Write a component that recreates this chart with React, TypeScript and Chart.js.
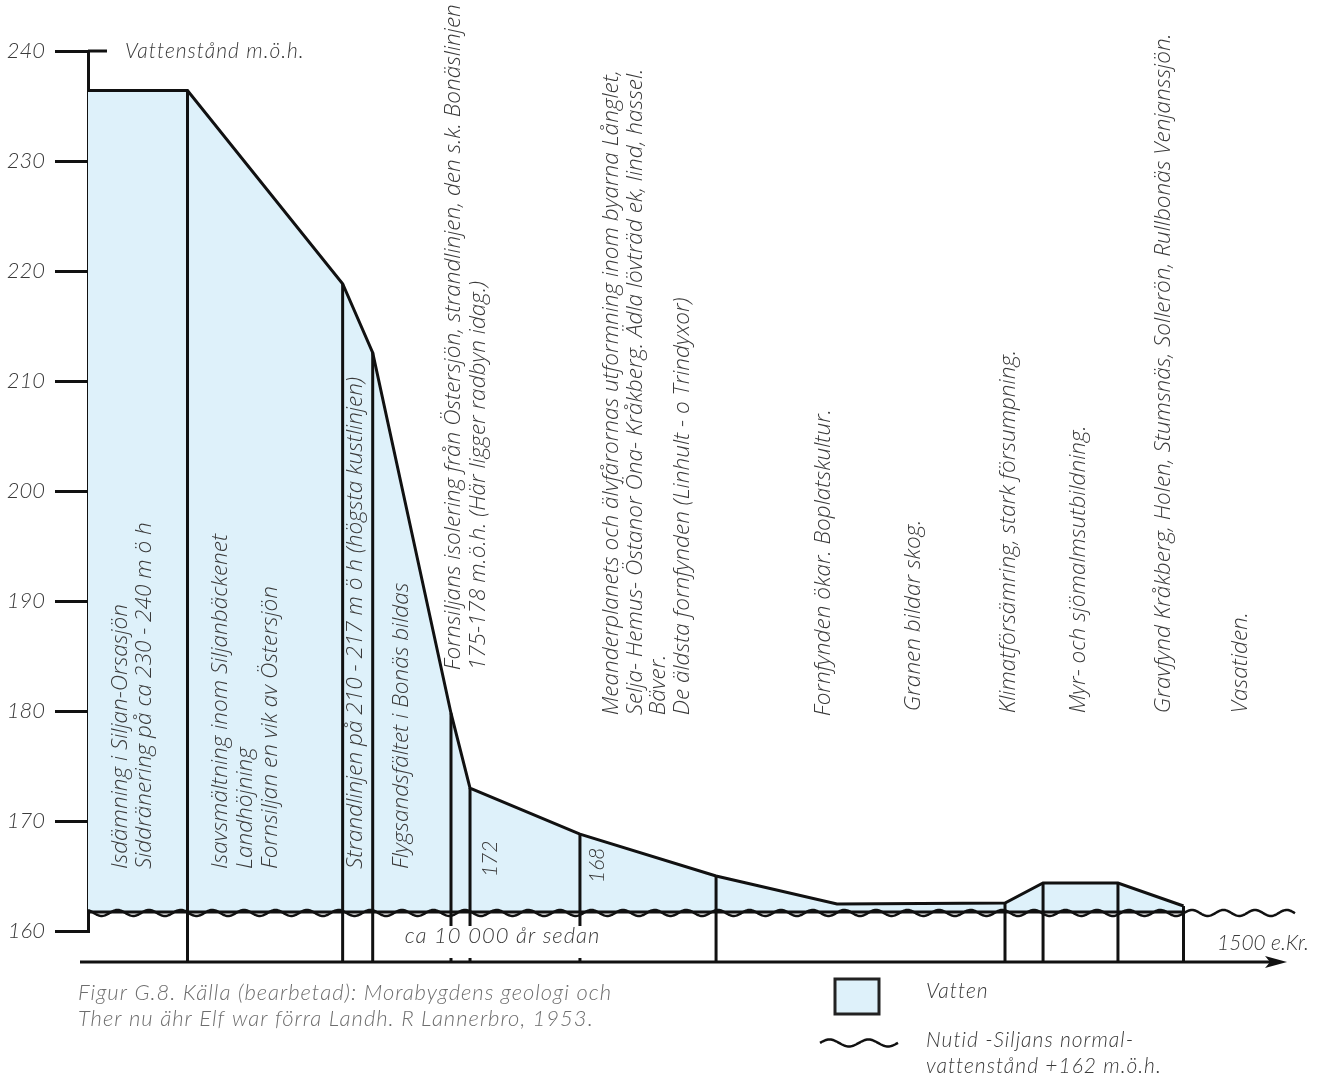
import React, { useEffect, useRef } from "react";
import { Chart, registerables } from "chart.js";

Chart.register(...registerables);

// ---------- data ----------
// y-axis ticks (m.ö.h.)
const Y_TICKS = [160, 170, 180, 190, 200, 210, 220, 230, 240];
// schematic time position of each stage boundary (0 = oldest, 100 = right edge)
const STAGE_X = [0, 8.21, 21.01, 23.49, 29.95, 31.52, 40.59, 51.82, 61.8, 75.66, 78.8, 84.98, 90.39];
// water level (m.ö.h.) at each stage boundary
const WATER_LEVEL = [236.4, 236.4, 218.84, 212.58, 179.8, 172.99, 168.81, 165.0, 162.45, 162.54, 164.36, 164.36, 162.27];
// boundaries that get a vertical divider line
const DIVIDERS = [1, 2, 3, 4, 5, 6, 7, 9, 10, 11, 12];
// dividers that are interrupted by the "ca 10 000 år sedan" label
const GAP_DIVIDERS = [4, 5, 6];
const NORMAL_LEVEL = 161.73; // today's normal level (+162 m.ö.h.)
const AXIS_LEVEL = 157.18; // time axis
const GAP_TOP = 160.45;
const GAP_BOTTOM = 157.55;
const X_AXIS_START = -0.66;
const X_AXIS_END = 98.93;
const WAVE_END = 99.6;

// ---------- texts ----------
const Y_TITLE = "Vattenstånd m.ö.h.";
const STAGE_TEXTS: string[][] = [
  ["Isdämning i Siljan-Orsasjön", "Siddränering på ca 230 - 240 m ö h"],
  ["Isavsmältning inom Siljanbäckenet", "Landhöjning", "Fornsiljan en vik av Östersjön"],
  ["Strandlinjen på 210 - 217 m ö h (högsta kustlinjen)"],
  ["Flygsandsfältet i Bonäs bildas"],
  [
    "Fornsiljans isolering från Östersjön, strandlinjen, den s.k. Bonäslinjen",
    "175-178 m.ö.h. (Här ligger radbyn idag.)",
  ],
  [
    "Meanderplanets och älvfårornas utformning inom byarna Långlet,",
    "Selja- Hemus- Östanor Öna- Kråkberg. Ädla lövträd ek, lind, hassel.",
    "Bäver.",
    "De äldsta fornfynden (Linhult - o Trindyxor)",
  ],
  ["Fornfynden ökar. Boplatskultur."],
  ["Granen bildar skog."],
  ["Klimatförsämring, stark försumpning."],
  ["Myr- och sjömalmsutbildning."],
  ["Gravfynd Kråkberg, Holen, Stumsnäs, Sollerön, Rullbonäs Venjanssjön."],
  ["Vasatiden."],
];
const LEVEL_MARKS = ["172", "168"];
const TIME_START_LABEL = "ca 10 000 år sedan";
const TIME_END_LABEL = "1500 e.Kr.";
const CAPTION = [
  "Figur G.8. Källa (bearbetad): Morabygdens geologi och",
  "Ther nu ähr Elf war förra Landh. R Lannerbro, 1953.",
];
const LEGEND_WATER = "Vatten";
const LEGEND_NORMAL = ["Nutid -Siljans normal-", "vattenstånd +162 m.ö.h."];

// ---------- layout (anchors in axis units, spacing in px) ----------
const STAGE_TEXT_LAYOUT = [
  { x: 3.22, y: 165.63, gap: 24 },
  { x: 11.47, y: 165.63, gap: 25 },
  { x: 22.61, y: 165.63, gap: 24 },
  { x: 26.4, y: 165.63, gap: 24 },
  { x: 30.69, y: 183.7, gap: 25 },
  { x: 43.73, y: 179.61, gap: 23.5 },
  { x: 61.22, y: 179.52, gap: 24 },
  { x: 68.65, y: 179.98, gap: 24 },
  { x: 76.49, y: 179.8, gap: 24 },
  { x: 82.26, y: 179.8, gap: 24 },
  { x: 89.27, y: 179.8, gap: 24 },
  { x: 95.63, y: 179.8, gap: 24 },
];
const LEVEL_MARK_LAYOUT = [
  { x: 33.75, y: 164.9 },
  { x: 42.57, y: 164.36 },
];

const FILL = "#def1fa";
const INK = "#111111";
const TEXT = "#3a3a3a";
const CAPTION_COLOR = "#6e6e6e";
const ROT_FONT = 'italic 300 22.6px "Open Sans"';
const GEO_FONT = "italic 300 21px Lato";
const GEO_FONT_L = "italic 300 22px Lato";

const schematicPlugin = {
  id: "schematic",
  afterDatasetsDraw(chart: any) {
    const { ctx, scales } = chart;
    const xs = scales.x;
    const ys = scales.y;
    const px = (v: number) => xs.getPixelForValue(v);
    const py = (v: number) => ys.getPixelForValue(v);

    ctx.save();
    ctx.strokeStyle = INK;
    ctx.fillStyle = INK;
    ctx.lineWidth = 3;
    ctx.lineCap = "butt";

    // vertical dividers
    DIVIDERS.forEach((i) => {
      const x = px(STAGE_X[i]);
      const top = py(WATER_LEVEL[i]);
      const bottom = py(AXIS_LEVEL);
      ctx.beginPath();
      if (GAP_DIVIDERS.includes(i)) {
        ctx.moveTo(x, top);
        ctx.lineTo(x, py(GAP_TOP));
        ctx.moveTo(x, py(GAP_BOTTOM));
        ctx.lineTo(x, bottom);
      } else {
        ctx.moveTo(x, top);
        ctx.lineTo(x, bottom);
      }
      ctx.stroke();
    });

    // today's water level: straight edge under the water body
    const wy = py(NORMAL_LEVEL);
    ctx.beginPath();
    ctx.moveTo(px(0), wy);
    ctx.lineTo(px(STAGE_X[STAGE_X.length - 1]), wy);
    ctx.stroke();

    // wavy line
    ctx.lineWidth = 2.5;
    ctx.beginPath();
    const x0 = px(0);
    const x1 = px(WAVE_END);
    const period = 31.6;
    for (let x = x0; x <= x1; x += 1) {
      const yy = wy + 1 + 3 * Math.cos((2 * Math.PI * (x - 101.7)) / period);
      if (x === x0) ctx.moveTo(x, yy);
      else ctx.lineTo(x, yy);
    }
    ctx.stroke();

    // time axis with arrow
    ctx.lineWidth = 3;
    const ay = py(AXIS_LEVEL);
    const ax1 = px(X_AXIS_END);
    ctx.beginPath();
    ctx.moveTo(px(X_AXIS_START), ay);
    ctx.lineTo(ax1 - 10, ay);
    ctx.stroke();
    ctx.beginPath();
    ctx.moveTo(ax1, ay);
    ctx.lineTo(ax1 - 22, ay - 6);
    ctx.lineTo(ax1 - 17, ay);
    ctx.lineTo(ax1 - 22, ay + 6);
    ctx.closePath();
    ctx.fill();

    // extension of the top tick to the right of the axis
    const ty = py(Y_TICKS[Y_TICKS.length - 1]);
    ctx.beginPath();
    ctx.moveTo(px(0), ty);
    ctx.lineTo(px(0) + 19, ty);
    ctx.stroke();

    // rotated stage texts
    ctx.fillStyle = TEXT;
    ctx.font = ROT_FONT;
    ctx.textAlign = "left";
    ctx.textBaseline = "alphabetic";
    STAGE_TEXTS.forEach((lines, gi) => {
      const lay = STAGE_TEXT_LAYOUT[gi];
      const bx = px(lay.x);
      const by = py(lay.y);
      lines.forEach((line, li) => {
        ctx.save();
        ctx.translate(bx + li * lay.gap, by);
        ctx.rotate(-Math.PI / 2);
        ctx.fillText(line, 0, 0);
        ctx.restore();
      });
    });

    // level marks 172 / 168
    ctx.font = GEO_FONT;
    LEVEL_MARKS.forEach((t, i) => {
      const lay = LEVEL_MARK_LAYOUT[i];
      ctx.save();
      ctx.translate(px(lay.x), py(lay.y));
      ctx.rotate(-Math.PI / 2);
      ctx.fillText(t, 0, 0);
      ctx.restore();
    });

    // horizontal labels
    ctx.fillText(TIME_END_LABEL, ax1 - 70, ay - 12);
    (ctx as any).letterSpacing = "1px";
    ctx.fillText(Y_TITLE, px(0) + 37, ty + 7);
    ctx.font = GEO_FONT_L;
    ctx.fillText(TIME_START_LABEL, px(STAGE_X[3]) + 32, ay - 19);

    // caption
    ctx.fillStyle = CAPTION_COLOR;
    ctx.fillText(CAPTION[0], 78, 1000);
    ctx.fillText(CAPTION[1], 78, 1026);

    // legend
    ctx.fillStyle = FILL;
    ctx.strokeStyle = "#222";
    ctx.lineWidth = 3;
    ctx.fillRect(835, 979, 44, 35);
    ctx.strokeRect(835, 979, 44, 35);
    ctx.beginPath();
    for (let x = 820; x <= 898; x += 1) {
      const yy = 1043 + 3.5 * Math.cos((2 * Math.PI * (x - 820 + 10)) / 39);
      if (x === 820) ctx.moveTo(x, yy);
      else ctx.lineTo(x, yy);
    }
    ctx.lineWidth = 2.5;
    ctx.strokeStyle = INK;
    ctx.stroke();
    ctx.fillStyle = TEXT;
    ctx.font = GEO_FONT;
    ctx.fillText(LEGEND_WATER, 926, 998);
    ctx.fillText(LEGEND_NORMAL[0], 926, 1047);
    ctx.fillText(LEGEND_NORMAL[1], 926, 1073);
    (ctx as any).letterSpacing = "0px";

    ctx.restore();
  },
};

export default function App() {
  const canvasRef = useRef<HTMLCanvasElement | null>(null);

  useEffect(() => {
    if (!canvasRef.current) return;
    const chart = new Chart(canvasRef.current, {
      type: "line",
      data: {
        datasets: [
          {
            label: "Vatten",
            data: STAGE_X.map((x, i) => ({ x, y: WATER_LEVEL[i] })),
            borderColor: INK,
            borderWidth: 3,
            backgroundColor: FILL,
            fill: { value: NORMAL_LEVEL },
            pointRadius: 0,
            tension: 0,
            borderJoinStyle: "miter",
          },
        ],
      },
      options: {
        animation: false,
        responsive: true,
        maintainAspectRatio: false,
        layout: { padding: { left: 0, right: 23, top: 51, bottom: 144 } },
        plugins: {
          legend: { display: false },
          tooltip: { enabled: false },
        },
        scales: {
          x: { type: "linear", display: false, min: 0, max: 100 },
          y: {
            type: "linear",
            min: Y_TICKS[0],
            max: Y_TICKS[Y_TICKS.length - 1],
            afterFit: (s: any) => {
              s.width = 88;
            },
            afterBuildTicks: (s: any) => {
              s.ticks = Y_TICKS.map((v) => ({ value: v }));
            },
            border: { display: true, color: INK, width: 3 },
            grid: {
              display: true,
              drawOnChartArea: false,
              drawTicks: true,
              tickLength: 33,
              tickWidth: 3,
              tickColor: INK,
              lineWidth: 3,
              color: INK,
            },
            ticks: {
              padding: 10,
              color: TEXT,
              font: { family: "Lato", style: "italic", weight: 300 as any, size: 22 },
            },
          },
        },
      },
      plugins: [schematicPlugin],
    });
    return () => chart.destroy();
  }, []);

  return (
    <div
      style={{
        position: "absolute",
        left: 0,
        top: 0,
        width: 1323,
        height: 1075,
        background: "#fff",
      }}
    >
      <canvas ref={canvasRef} />
    </div>
  );
}
